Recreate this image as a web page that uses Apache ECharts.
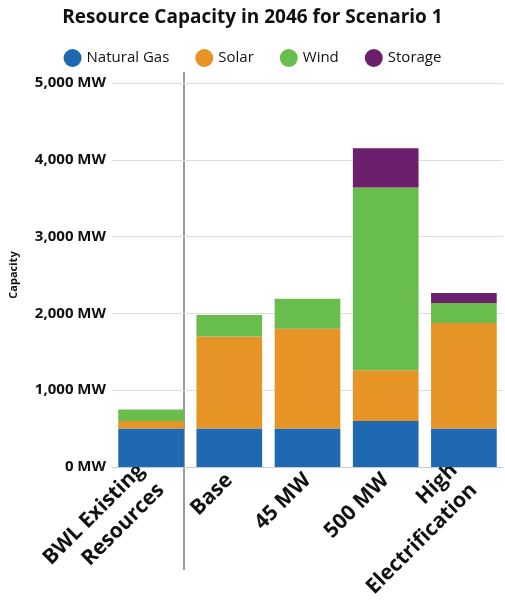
<!DOCTYPE html>
<html><head><meta charset="utf-8">
<script src="https://cdn.jsdelivr.net/npm/echarts@6/dist/echarts.min.js"></script>
<style>html,body{margin:0;padding:0;background:#fff}</style>
</head><body>
<div id="chart" style="width:505px;height:610px"></div>
<script>
const categories = ['BWL Existing\nResources', 'Base', '45 MW', '500 MW', 'High\nElectrification'];
const naturalGas = [500, 500, 500, 600, 500];
const solar = [100, 1200, 1300, 660, 1375];
const wind = [150, 280, 390, 2380, 260];
const storage = [0, 0, 0, 510, 130];
const colors = ['#1f68b2', '#e69426', '#69bd4c', '#6b1f6c'];

const font = '"Open Sans", sans-serif';
function bar(name, data, i) {
  return { name, type: 'bar', stack: 'total', data, barCategoryGap: '16%',
    itemStyle: { color: colors[i] } };
}

const chart = echarts.init(document.getElementById('chart'));
chart.setOption({
  animation: false,
  title: { text: 'Resource Capacity in 2046 for Scenario 1', left: 'center', top: 3,
    textStyle: { fontFamily: font, fontWeight: 'bold', fontSize: 19, color: '#111' } },
  legend: { top: 44, left: 'center', icon: 'circle', itemWidth: 18, itemHeight: 18, itemGap: 26,
    textStyle: { fontFamily: font, fontSize: 15, fontWeight: 500, color: '#111' } },
  grid: { left: 105, right: 2, top: 83, bottom: 143 },
  xAxis: { type: 'category', data: categories,
    axisLine: { lineStyle: { color: '#ccc' } }, axisTick: { show: false },
    axisLabel: { rotate: 45, interval: 0, fontFamily: font, fontWeight: 'bold', fontSize: 21,
      color: '#111', lineHeight: 28, margin: 10 } },
  yAxis: { type: 'value', min: 0, max: 5000, interval: 1000, name: 'Capacity',
    nameLocation: 'middle', nameGap: 93,
    nameTextStyle: { fontFamily: font, fontWeight: 'bold', fontSize: 11, color: '#111' },
    splitLine: { lineStyle: { color: '#ddd' } },
    axisLabel: { formatter: v => v.toLocaleString('en-US') + ' MW', fontFamily: font,
      fontWeight: 'bold', fontSize: 15, color: '#111', margin: 6 } },
  series: [
    bar('Natural Gas', naturalGas, 0),
    bar('Solar', solar, 1),
    bar('Wind', wind, 2),
    bar('Storage', storage, 3)
  ],
  graphic: [{ type: 'line', shape: { x1: 184, y1: 72, x2: 184, y2: 570 },
    style: { stroke: '#999', lineWidth: 2 } }]
});
</script>
</body></html>
